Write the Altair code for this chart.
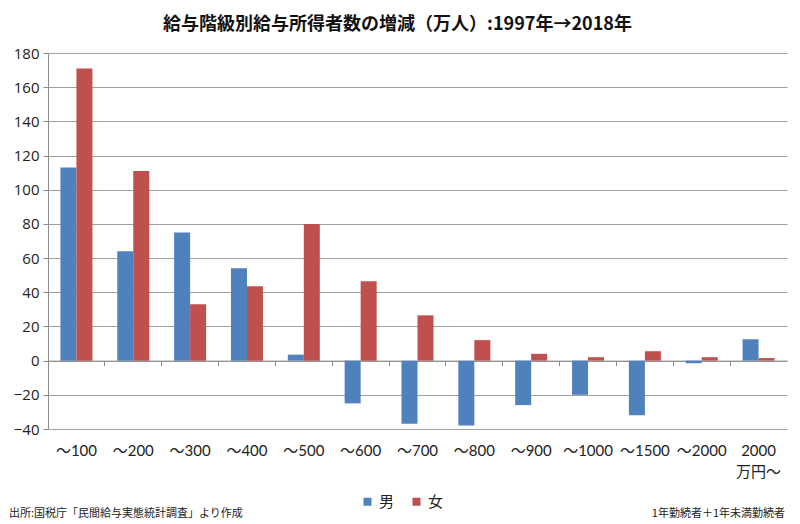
import altair as alt
import pandas as pd

categories = ["～100", "～200", "～300", "～400", "～500", "～600", "～700",
              "～800", "～900", "～1000", "～1500", "～2000", "2000万円～"]
male = [113, 64, 75, 54, 3.5, -25, -37, -38, -26, -20, -32, -1.5, 12.5]
female = [171, 111, 33, 43.5, 80, 46.5, 26.5, 12, 4, 2, 5.5, 2, 1.5]
series = ["男", "女"]
colors = ["#4F81BD", "#C0504D"]
y_ticks = list(range(-40, 181, 20))

rows = []
for c, m, f in zip(categories, male, female):
    rows.append({"cat": c, "sex": "男", "v": m})
    rows.append({"cat": c, "sex": "女", "v": f})
df = pd.DataFrame(rows)

W, H = 739, 376
ymin, ymax = -40, 180
zero_off = -H * (0 - ymin) / (ymax - ymin)

label_font = "Lato, Noto Sans CJK JP"

bars = alt.Chart(df).mark_bar(stroke=None).encode(
    x=alt.X("cat:N", sort=categories, title=None,
            scale=alt.Scale(paddingInner=0, paddingOuter=0),
            axis=alt.Axis(orient="bottom", offset=zero_off, bandPosition=0,
                          tickSize=5, tickColor="#8c8c8c", domainColor="#8c8c8c",
                          labelPadding=78, labelAngle=0,
                          labelFont=label_font, labelFontSize=15, labelColor="#222",
                          labelBaseline="top", labelLineHeight=21,
                          labelExpr="datum.value == '2000万円～' ? ['2000', '万円～'] : datum.value")),
    xOffset=alt.XOffset("sex:N", sort=series,
                        scale=alt.Scale(paddingInner=0, paddingOuter=0.776)),
    y=alt.Y("v:Q", title=None,
            scale=alt.Scale(domain=[ymin, ymax], nice=False, zero=False),
            axis=alt.Axis(values=y_ticks, grid=True, gridColor="#a0a0a0", gridWidth=1.2,
                          domainColor="#8c8c8c", tickColor="#8c8c8c", tickSize=5,
                          labelFont="Open Sans", labelFontSize=15, labelColor="#222",
                          labelPadding=4)),
    color=alt.Color("sex:N", sort=series,
                    scale=alt.Scale(domain=series, range=colors),
                    legend=alt.Legend(title=None, orient="none", direction="horizontal",
                                      legendX=312, legendY=441, symbolType="square",
                                      symbolSize=64, symbolStrokeWidth=0,
                                      labelFont="Noto Sans CJK JP", labelFontSize=15,
                                      labelColor="#222", columnPadding=14)),
)

notes_df = pd.DataFrame({
    "t": ["出所:国税庁「民間給与実態統計調査」より作成", "1年勤続者＋1年未満勤続者"],
    "side": ["L", "R"],
})
note_left = alt.Chart(notes_df).transform_filter("datum.side == 'L'").mark_text(
    align="left", baseline="middle", font="Noto Sans CJK JP", fontSize=11, color="#222"
).encode(text="t:N", x=alt.value(-39), y=alt.value(461))
note_right = alt.Chart(notes_df).transform_filter("datum.side == 'R'").mark_text(
    align="right", baseline="middle", font="Noto Sans CJK JP", fontSize=11, color="#222"
).encode(text="t:N", x=alt.value(737), y=alt.value(461))

chart = alt.layer(bars, note_left, note_right).properties(
    width=W, height=H,
    title=alt.TitleParams("給与階級別給与所得者数の増減（万人）:1997年→2018年",
                          font="Noto Sans CJK JP", fontSize=18, fontWeight="bold",
                          color="#111", anchor="middle", dx=-20, offset=12),
    padding={"left": 40, "top": 45, "right": 5, "bottom": 95},
    autosize=alt.AutoSizeParams(type="none"),
).configure_view(stroke=None)

chart.save("out.html", embed_options={"renderer": "svg", "actions": False})
